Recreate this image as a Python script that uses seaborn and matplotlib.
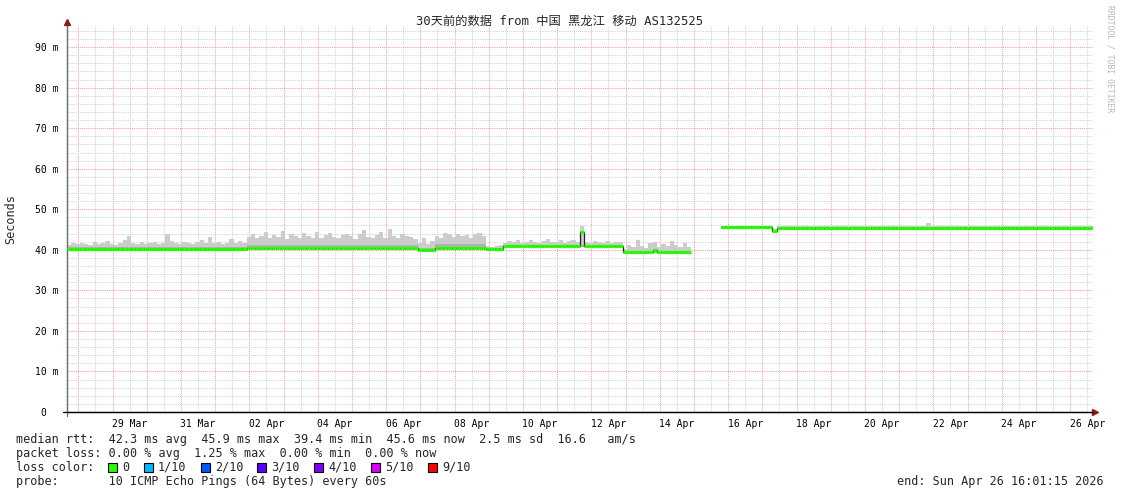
import numpy as np
import pandas as pd
import matplotlib
matplotlib.use("Agg")
import matplotlib.pyplot as plt
from matplotlib.patches import Rectangle
import seaborn as sns

# 1. Data: 3 hour bins (values in ms)
start = pd.Timestamp("2026-03-27 16:01:15")
end = pd.Timestamp("2026-04-26 16:01:15")
n_bins = 240

# median rtt is a step series, given as (length in bins, level)
seg_len = [42, 40, 4, 12, 4, 28, 16, 7, 12, 1, 74]
seg_median = [40.1, 40.4, 40.0, 40.4, 40.1, 41.0, 39.4, np.nan, 45.7, 44.7, 45.5]
seg_low = [39.8, 40.0, 39.8, 40.0, 39.9, 40.7, 39.2, np.nan, 45.3, 44.5, 45.0]
seg_mid = [40.8, 41.3, 40.5, 41.4, 40.4, 41.2, 39.8, np.nan, 45.5, 44.8, 45.2]
spike_bins = [120, 137]
spike_median = [44.4, 40.0]

# upper edge of the smoke (slowest ping) per bin
top_a = [41.3, 41.6, 41.4, 41.8, 41.5, 41.2, 41.9, 41.4, 41.6, 42.1, 41.5, 41.3, 41.7, 42.3,
         43.4, 41.8, 41.5, 41.9, 41.4, 41.6, 42.0, 41.5, 41.8, 43.9, 42.2, 41.7, 41.5, 42.0,
         41.6, 41.4, 41.9, 42.4, 41.8, 43.2, 41.6, 42.0, 41.5, 41.8, 42.6, 41.7, 42.1, 41.6]
top_b = [43.2, 44.0, 42.8, 43.5, 44.3, 42.9, 43.7, 43.1, 44.6, 42.7, 43.8, 43.3, 42.9, 44.1,
         43.5, 43.0, 44.4, 42.8, 43.6, 44.2, 43.1, 42.9, 43.7, 44.0, 43.3, 42.6, 43.9, 44.8,
         43.2, 42.9, 43.6, 44.3, 43.0, 45.2, 43.4, 42.8, 44.0, 43.5, 43.1, 42.7]
top_c = [41.6, 42.8, 41.4, 42.2]
top_d = [43.5, 42.9, 44.2, 43.8, 43.1, 44.0, 43.4, 43.7, 42.8, 43.9, 44.1, 43.3]
top_e = [41.0, 40.8, 40.9, 41.2]
top_f = [41.8, 42.1, 41.9, 42.3, 41.7, 42.0, 42.4, 41.9, 41.8, 42.2, 42.6, 41.9, 42.0, 42.3,
         41.8, 42.1, 42.5, 41.9, 45.9, 42.0, 41.8, 42.2, 41.9, 41.7, 42.1, 41.8, 42.0, 41.9]
top_g = [40.2, 41.2, 40.6, 42.3, 41.0, 40.5, 41.8, 42.0, 40.7, 41.5, 40.9, 42.2, 41.1, 40.6,
         41.7, 40.8]
top_gap = [np.nan] * 7
top_h = [45.9] * 12 + [45.1] + [45.8] * 35 + [46.7] + [45.8] * 38

loss_labels = ["0", "1/10", "2/10", "3/10", "4/10", "5/10", "9/10"]
loss_colors = ["#26ff00", "#00b8ff", "#0059ff", "#5e00ff", "#7e00ff", "#dd00ff", "#ff0000"]

legend_lines = [
    "median rtt:  42.3 ms avg  45.9 ms max  39.4 ms min  45.6 ms now  2.5 ms sd  16.6   am/s",
    "packet loss: 0.00 % avg  1.25 % max  0.00 % min  0.00 % now",
    "loss color:",
    "probe:       10 ICMP Echo Pings (64 Bytes) every 60s",
]
title = "30天前的数据 from 中国 黑龙江 移动 AS132525"

# 2. Build the frame
t = pd.date_range(start, periods=n_bins, freq="3h")
median = np.repeat(seg_median, seg_len)
median[spike_bins] = spike_median
low = np.repeat(seg_low, seg_len)
mid = np.repeat(seg_mid, seg_len)
top = np.array(top_a + top_b + top_c + top_d + top_e + top_f + top_g + top_gap + top_h)
df = pd.DataFrame({"time": t, "median": median, "low": low, "mid": mid, "top": top})
df["block"] = df["median"].isna().cumsum()
df = df.dropna()

# 3. Plot
sns.set_style("white")
plt.rcParams["font.family"] = ["DejaVu Sans Mono", "Noto Sans CJK SC"]

W, H = 1121, 494
fig = plt.figure(figsize=(W / 100, H / 100), dpi=100)
ax = fig.add_axes([67 / W, 1 - 412 / H, (1093 - 67) / W, (412 - 26) / H])

red = "#f4a0a0"
gray = "#d4d4d4"
dots = (0, (1, 1))
for d in pd.date_range("2026-03-27 12:00", end, freq="12h"):
    if d > start:
        ax.axvline(d, color=red if d.hour == 0 else gray, lw=0.75, ls=dots, zorder=0)
for v in range(2, 96, 2):
    ax.axhline(v, color=red if v % 10 == 0 else gray, lw=0.75, ls=dots, zorder=0)

# smoke
bw = pd.Timedelta(hours=3)
ax.bar(df["time"], df["top"] - df["low"], bottom=df["low"], width=bw, align="edge",
       color="#cccccc", lw=0, zorder=1)
ax.bar(df["time"], df["mid"] - df["low"], bottom=df["low"], width=bw, align="edge",
       color="#b2b2b2", lw=0, zorder=1)

# median
sns.lineplot(data=df, x="time", y="median", units="block", estimator=None,
             drawstyle="steps-post", color="#202020", lw=0.9, ax=ax, zorder=2)
ax.hlines(df["median"], df["time"], df["time"] + bw, colors=loss_colors[0], lw=2.3, zorder=3)

ax.set_xlim(start, end)
ax.set_ylim(0, 95.2)
ax.set_xlabel("")
ax.set_ylabel("")

yt = list(range(0, 100, 10))
ax.set_yticks(yt)
ax.set_yticklabels(["0  "] + [f"{v} m" for v in yt[1:]])
xt = pd.date_range("2026-03-29 12:00", periods=15, freq="2D")
ax.set_xticks(xt)
ax.set_xticklabels([d.strftime("%d %b") for d in xt])
ax.tick_params(axis="both", length=0, labelsize=7, colors="#000000")
ax.tick_params(axis="y", pad=6)
ax.tick_params(axis="x", pad=5)

for s in ["top", "right"]:
    ax.spines[s].set_visible(False)
ax.spines["left"].set_color("#707070")
ax.spines["bottom"].set_color("#000000")
ax.spines["left"].set_linewidth(0.9)
ax.spines["bottom"].set_linewidth(0.9)
ax.plot([-0.004, 1.0], [0, 0], transform=ax.transAxes, color="#000000", lw=0.9, clip_on=False)
ax.plot([0, 0], [-0.01, 1.0], transform=ax.transAxes, color="#707070", lw=0.9, clip_on=False)
ax.plot([0], [1.01], marker="^", ms=4, color="#8b1a1a", transform=ax.transAxes, clip_on=False)
ax.plot([1.002], [0], marker=">", ms=4, color="#8b1a1a", transform=ax.transAxes, clip_on=False)

# texts
fig.text(560 / W, 1 - 21 / H, title, ha="center", va="center", fontsize=8.8,
         family=["DejaVu Sans Mono", "Noto Sans CJK SC"])
fig.text(11 / W, 1 - 219 / H, "Seconds", rotation=90, ha="center", va="center", fontsize=8.5)
fig.text(1110 / W, 1 - 5 / H, "RRDTOOL / TOBI OETIKER", rotation=-90, ha="center", va="top",
         fontsize=5.8, color="#b8b8b8")

rows = [439, 453, 467, 481]
for line, yy in zip(legend_lines, rows):
    fig.text(16 / W, 1 - yy / H, line, ha="left", va="center", fontsize=8.5)
fig.text(1104 / W, 1 - rows[3] / H, "end: Sun Apr 26 16:01:15 2026", ha="right",
         va="center", fontsize=8.5)

cw = 7.1
col = 13
for lab, c in zip(loss_labels, loss_colors):
    x0 = 16 + col * cw
    fig.patches.append(Rectangle((x0 / W, 1 - (rows[2] + 5) / H), 9 / W, 9 / H,
                                 transform=fig.transFigure, facecolor=c,
                                 edgecolor="#000000", lw=0.8))
    fig.text((16 + (col + 2) * cw) / W, 1 - rows[2] / H, lab, ha="left", va="center",
             fontsize=8.5)
    col += 2 + len(lab) + 2

fig.savefig("out.png", dpi=100, facecolor="white")
